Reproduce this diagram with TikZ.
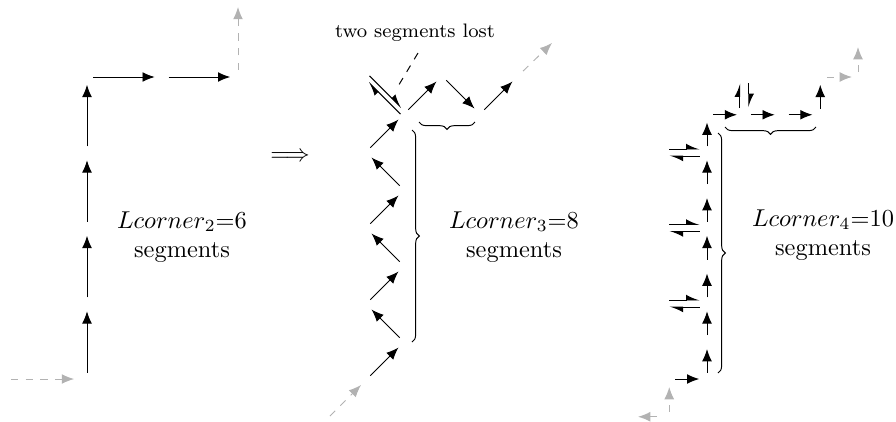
\documentclass[tikz,border=0pt]{standalone}
\usetikzlibrary{arrows.meta,decorations.pathreplacing,calc}
\tikzset{
 seg/.style={-{Latex[length=5pt,width=4pt]}, shorten <=2.5pt, shorten >=3.2pt},
 halfseg/.style={-{Latex[length=5pt,width=4.4pt,harpoon]}},
 ghost/.style={black!30, dashed, -{Latex[length=5pt,width=4pt]}},
 brc/.style={decorate, decoration={brace, amplitude=3pt}},
 lbl/.style={align=center, inner sep=0pt}
}
\begin{document}
\begin{tikzpicture}[x=0.41pt,y=-0.41pt]
\useasboundingbox (0,0) rectangle (896,421);
% ---------- left figure ----------
\coordinate (a0) at (87,379);
\coordinate (a1) at (87,303.5);
\coordinate (a2) at (87,228);
\coordinate (a3) at (87,152.5);
\coordinate (a4) at (87,77);
\coordinate (a5) at (162.5,77);
\coordinate (a6) at (238,77);
\coordinate (ga) at (11,379);
\coordinate (gb) at (238,7);
\draw[ghost, shorten >=5.3pt] (ga) -- (a0);
\foreach \i/\j in {0/1,1/2,2/3,3/4,4/5,5/6} \draw[seg] (a\i) -- (a\j);
\draw[ghost, shorten <=2.9pt] (a6) -- (gb);
\node[lbl] (t2) at (182,237) {$Lcorner_2$=6\\segments};
\node (imp) at (290,157) {$\Longrightarrow$};
% ---------- middle figure ----------
\coordinate (q0) at (366,380);
\coordinate (q1) at (404,342);
\coordinate (q2) at (366,304);
\coordinate (q3) at (404,266);
\coordinate (q4) at (366,228);
\coordinate (q5) at (404,190);
\coordinate (q6) at (366,152);
\coordinate (q7) at (404,114);
\coordinate (r) at (366,76);
\coordinate (s1) at (442,76);
\coordinate (s2) at (480,114);
\coordinate (s3) at (518,76);
\coordinate (gc) at (330,416);
\coordinate (gd) at (552,43);
\draw[ghost, shorten >=2.9pt] (gc) -- (q0);
\foreach \i/\j in {0/1,1/2,2/3,3/4,4/5,5/6,6/7} \draw[seg] (q\i) -- (q\j);
\draw[seg] (q7) -- (s1);
\draw[seg] (s1) -- (s2);
\draw[seg] (s2) -- (s3);
\draw[ghost, shorten <=2.9pt] (s3) -- (gd);
\draw[halfseg, shorten <=1pt, shorten >=2.5pt] ($(q7)+(-1.8,1.8)$) -- ($(r)+(-1.8,1.8)$);
\draw[halfseg, shorten <=1pt, shorten >=2.5pt] ($(r)+(1.8,-1.8)$) -- ($(q7)+(1.8,-1.8)$);
\node[font=\footnotesize] (lost) at (415,33) {two segments lost};
\coordinate (l1) at (418,53);
\coordinate (l2) at (397,88);
\draw[dashed] (l1) -- (l2);
\draw[brc] (412,130) -- (412,342);
\draw[brc] (475,122) -- (419,122);
\node[lbl] (t3) at (514,237) {$Lcorner_3$=8\\segments};
% ---------- right figure ----------
\coordinate (b0) at (669.25,379);
\coordinate (b1) at (707,379);
\coordinate (b2) at (707,341.25);
\coordinate (b3) at (707,303.5);
\coordinate (b4) at (707,265.75);
\coordinate (b5) at (707,228);
\coordinate (b6) at (707,190.25);
\coordinate (b7) at (707,152.5);
\coordinate (b8) at (707,114.75);
\coordinate (c3) at (669.25,303.5);
\coordinate (c5) at (669.25,228);
\coordinate (c7) at (669.25,152.5);
\coordinate (t1) at (744.75,114.75);
\coordinate (t2) at (782.5,114.75);
\coordinate (t3) at (820.25,114.75);
\coordinate (t4) at (820.25,77);
\coordinate (u1) at (744.75,77);
\coordinate (ge) at (858,77);
\coordinate (gf) at (858,39.25);
\coordinate (gg) at (669.25,416.75);
\coordinate (gh) at (631.5,416.75);
\draw[ghost, shorten <=5pt, shorten >=2.7pt] (gg) -- (gh);
\draw[ghost, shorten <=2pt, shorten >=3.3pt] (gg) -- (b0);
\foreach \i/\j in {0/1,1/2,2/3,3/4,4/5,5/6,6/7,7/8} \draw[seg] (b\i) -- (b\j);
\draw[seg] (b8) -- (t1);
\draw[seg] (t1) -- (t2);
\draw[seg] (t2) -- (t3);
\draw[seg] (t3) -- (t4);
\draw[ghost, shorten <=2.7pt, shorten >=2.5pt] (t4) -- (ge);
\draw[ghost, shorten <=2pt, shorten >=3.2pt] (ge) -- (gf);
\foreach \k in {3,5,7} {
  \draw[halfseg, shorten <=0pt, shorten >=2.9pt] ($(c\k)+(0,-3.5)$) -- ($(b\k)+(0,-3.5)$);
  \draw[halfseg, shorten <=2.9pt, shorten >=0pt] ($(b\k)+(0,3.5)$) -- ($(c\k)+(0,3.5)$);
}
\draw[halfseg, shorten <=2.7pt, shorten >=2.5pt] ($(t1)+(-5,0)$) -- ($(u1)+(-5,0)$);
\draw[halfseg, shorten <=2.5pt, shorten >=3pt] ($(u1)+(4,0)$) -- ($(t1)+(4,0)$);
\draw[brc] (718,133) -- (718,373);
\draw[brc] (816,127) -- (725,127);
\node[lbl] (t4n) at (823,235) {$Lcorner_4$=10\\segments};
\end{tikzpicture}
\end{document}
